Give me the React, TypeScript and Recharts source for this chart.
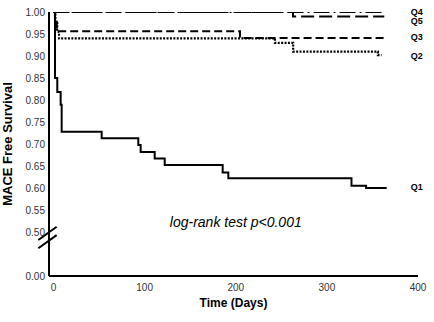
import React from 'react';
import { LineChart, Line, XAxis, YAxis, ReferenceLine, ReferenceDot } from 'recharts';

const FONT = '"Liberation Sans", Arial, sans-serif';

// Kaplan-Meier step data (days, survival)
const q1Days = [0, 1.6, 4.1, 7.8, 8.9, 52.8, 93, 95.6, 111, 122, 185.6, 191.8, 327, 343, 365.6];
const q1Surv = [1, 0.85, 0.818, 0.789, 0.728, 0.713, 0.698, 0.682, 0.667, 0.652, 0.635, 0.622, 0.605, 0.6, 0.6];
const q2Days = [0, 2, 4, 6, 243, 263, 356, 360];
const q2Surv = [1, 0.975, 0.955, 0.94, 0.93, 0.91, 0.902, 0.902];
const q3Days = [0, 1.5, 3.5, 204.6, 363];
const q3Surv = [1, 0.98, 0.956, 0.941, 0.941];
const q4Days = [0, 361];
const q4Surv = [1, 1];
const q5Days = [0, 262.8, 363];
const q5Surv = [1, 0.99, 0.99];

const xTicks = [0, 100, 200, 300, 400];
// 0.40 on the internal scale stands for 0.00 (broken axis)
const yTicks = [0.4, 0.5, 0.55, 0.6, 0.65, 0.7, 0.75, 0.8, 0.85, 0.9, 0.95, 1.0];

const seriesLabels = ['Q4', 'Q5', 'Q3', 'Q2', 'Q1'];
const seriesLabelY = [1.0, 0.9795, 0.943, 0.9, 0.602];
const labelDay = 391;

const toRows = (days: number[], surv: number[]) => days.map((t, i) => ({ t, s: surv[i] }));

const q1 = toRows(q1Days, q1Surv);
const q2 = toRows(q2Days, q2Surv);
const q3 = toRows(q3Days, q3Surv);
const q4 = toRows(q4Days, q4Surv);
const q5 = toRows(q5Days, q5Surv);

const fmtY = (v: number) => (Math.abs(v - 0.4) < 1e-6 ? '0.00' : v.toFixed(2));

export default function App() {
  return (
    <div style={{ width: 434, height: 322 }}>
      <style>{'body{margin:0}'}</style>
      <LineChart width={434} height={322} margin={{ top: 12, right: 16, bottom: 0, left: 0 }}>
        <XAxis
          type="number"
          dataKey="t"
          domain={[-5, 400]}
          ticks={xTicks}
          allowDataOverflow
          height={46}
          axisLine={{ stroke: '#000', strokeWidth: 2 }}
          tickLine={false}
          tickSize={6}
          tickMargin={2}
          tick={{ fill: '#333', fontSize: 10, fontFamily: FONT }}
          label={{
            value: 'Time (Days)',
            position: 'insideBottom',
            offset: 15,
            fill: '#000',
            fontSize: 12,
            fontWeight: 'bold',
            fontFamily: FONT,
          }}
        />
        <YAxis
          type="number"
          dataKey="s"
          domain={[0.4, 1]}
          ticks={yTicks}
          allowDataOverflow
          width={49}
          tickFormatter={fmtY}
          axisLine={{ stroke: '#000', strokeWidth: 2 }}
          tickLine={false}
          tickSize={2}
          tickMargin={2}
          tick={{ fill: '#333', fontSize: 10, fontFamily: FONT }}
          label={{
            value: 'MACE Free Survival',
            angle: -90,
            position: 'insideLeft',
            offset: 10,
            dx: -3,
            fill: '#000',
            fontSize: 13,
            fontWeight: 'bold',
            fontFamily: FONT,
            style: { textAnchor: 'middle' },
          }}
        />
        {/* axis break */}
        <ReferenceLine
          segment={[{ x: -16.7, y: 0.4725 }, { x: 3.4, y: 0.5025 }]}
          stroke="#fff"
          strokeWidth={7}
          ifOverflow="visible"
        />
        <ReferenceLine
          segment={[{ x: -16.7, y: 0.4818 }, { x: 3.4, y: 0.512 }]}
          stroke="#000"
          strokeWidth={2}
          ifOverflow="visible"
        />
        <ReferenceLine
          segment={[{ x: -16.7, y: 0.463 }, { x: 3.4, y: 0.493 }]}
          stroke="#000"
          strokeWidth={2}
          ifOverflow="visible"
        />
        <Line data={q1} dataKey="s" type="stepAfter" stroke="#000" strokeWidth={2} dot={false} activeDot={false} isAnimationActive={false} />
        <Line data={q2} dataKey="s" type="stepAfter" stroke="#000" strokeWidth={2.2} strokeDasharray="2 1.4" dot={false} activeDot={false} isAnimationActive={false} />
        <Line data={q3} dataKey="s" type="stepAfter" stroke="#000" strokeWidth={2} strokeDasharray="8 4" dot={false} activeDot={false} isAnimationActive={false} />
        <Line data={q5} dataKey="s" type="stepAfter" stroke="#000" strokeWidth={2} strokeDasharray="13 5" dot={false} activeDot={false} isAnimationActive={false} />
        <Line data={q4} dataKey="s" type="stepAfter" stroke="#000" strokeWidth={2} strokeDasharray="16 4 2 4" dot={false} activeDot={false} isAnimationActive={false} />
        {seriesLabels.map((name, i) => (
          <ReferenceDot
            key={name}
            x={labelDay}
            y={seriesLabelY[i]}
            r={1}
            fill="none"
            stroke="none"
            ifOverflow="visible"
            label={{ value: name, position: 'right', offset: 0, fill: '#000', fontSize: 9, fontWeight: 'bold', fontFamily: FONT }}
          />
        ))}
        <ReferenceDot
          x={200}
          y={0.523}
          r={1}
          fill="none"
          stroke="none"
          ifOverflow="visible"
          label={{ value: 'log-rank test p<0.001', position: 'center', fill: '#000', fontSize: 14, fontStyle: 'italic', fontFamily: FONT }}
        />
      </LineChart>
    </div>
  );
}
